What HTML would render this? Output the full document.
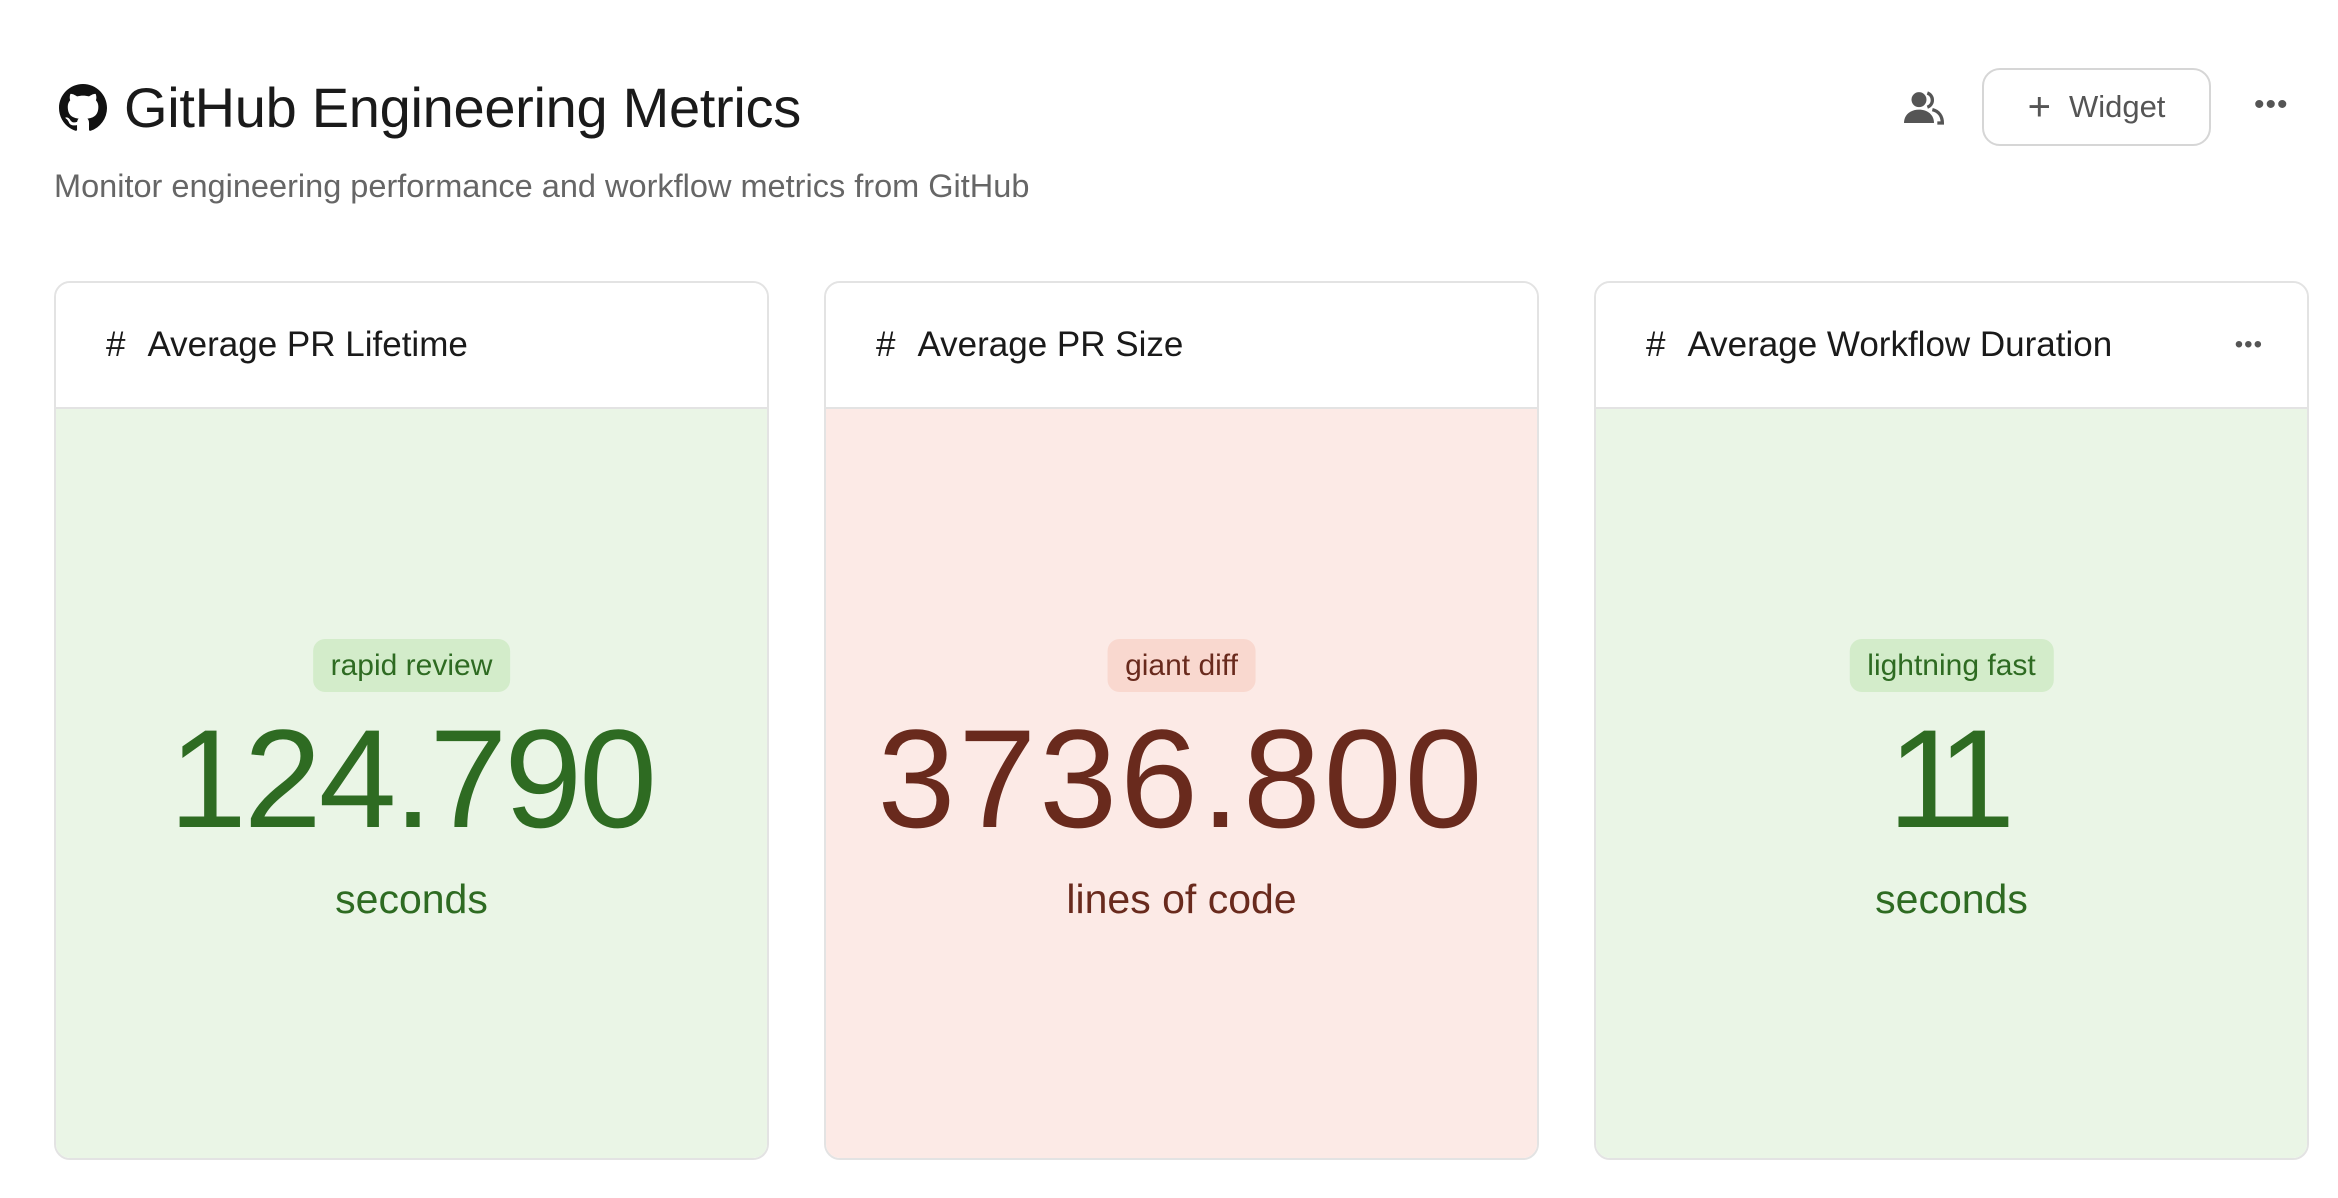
<!DOCTYPE html>
<html><head><meta charset="utf-8"><style>
*{margin:0;padding:0;box-sizing:border-box}
body{width:2338px;height:1198px;background:#fff;font-family:"Liberation Sans",sans-serif;position:relative;overflow:hidden}
.abs{position:absolute}
.title{left:124px;top:76px;font-size:56px;color:#1a1a1a;line-height:64px;letter-spacing:-0.3px}
.sub{left:54px;top:167px;font-size:32.5px;color:#666;line-height:38px}
.btn{left:1982px;top:68px;width:229px;height:78px;border:2px solid #d6d6d6;border-radius:18px;font-size:31px;color:#555;display:flex;align-items:center;justify-content:center;gap:18px}
.card{top:281px;height:879px;width:715px;border:2px solid #e3e3e3;border-radius:16px;overflow:hidden}
.hd{height:126px;background:#fff;border-bottom:2px solid #e3e3e3;font-size:35px;color:#1a1a1a;display:flex;align-items:center;padding-left:50px}
.hd b{font-weight:400;margin-right:22px}
.bd{position:absolute;top:126px;left:0;right:0;bottom:0}
.pill{position:absolute;top:230px;height:53px;left:50%;transform:translateX(-50%);border-radius:12px;font-size:30px;line-height:53px;padding:0 18px;white-space:nowrap}
.num{position:absolute;top:290px;left:0;right:0;text-align:center;font-size:140px;line-height:160px}
.unit{position:absolute;top:466px;left:0;right:0;text-align:center;font-size:41px;line-height:48px}
.g .bd{background:#eaf5e6;color:#2e6b22}.g .pill{background:#d3ecca}
.r .bd{background:#fceae6;color:#692a1d}.r .pill{background:#f9d8cf}
.dots{font-size:30px;color:#555;letter-spacing:1px}
</style></head><body>
<svg class="abs" style="left:59px;top:84px" width="48" height="48" viewBox="0 0 16 16"><path fill="#111" d="M8 0C3.580 0 0 3.58 0 8c0 3.54 2.29 6.53 5.47 7.59.4.07.55-.17.55-.38 0-.19-.01-.82-.01-1.49-2.010.37-2.53-.49-2.69-.94-.09-.23-.48-.94-.82-1.130-.28-.15-.68-.52-.01-.53.63-.01 1.08.58 1.23.82.72 1.21 1.87.87 2.33.66.07-.52.28-.87.51-1.07-1.78-.2-3.64-.89-3.64-3.95 0-.87.31-1.59.82-2.15-.08-.2-.36-1.02.08-2.12 0 0 .67-.21 2.2.82.64-.18 1.32-.27 2-.27.68 0 1.36.09 2 .27 1.53-1.04 2.2-.82 2.2-.82.44 1.1.16 1.92.08 2.12.51.56.82 1.27.82 2.15 0 3.07-1.87 3.75-3.65 3.95.29.25.54.73.54 1.48 0 1.07-.01 1.93-.01 2.2 0 .21.15.46.55.38A8.013 8.013 0 0016 8c0-4.42-3.58-8-8-8z"/></svg>
<div class="abs title">GitHub Engineering Metrics</div>
<div class="abs sub">Monitor engineering performance and workflow metrics from GitHub</div>
<svg class="abs" style="left:1904px;top:90px" width="40" height="36" viewBox="0 0 24 20"><circle cx="9" cy="5" r="4.5" fill="#555"/><path d="M0 19c0-5 4-8 9-8s9 3 9 8z" fill="#555"/><path d="M14 1a4.5 4.5 0 010 8.5" stroke="#555" stroke-width="2" fill="none"/><path d="M17 11c4 1 6 4 6 8h-3" stroke="#555" stroke-width="2" fill="none"/></svg>
<div class="abs btn"><span style="font-size:40px;line-height:1">+</span><span>Widget</span></div>
<div class="abs dots" style="left:2254px;top:88px">•••</div>

<div class="abs card g" style="left:54px"><div class="hd"><b>#</b>Average PR Lifetime</div>
<div class="bd"><div class="pill">rapid review</div><div class="num" style="letter-spacing:-3px">124.790</div><div class="unit">seconds</div></div></div>

<div class="abs card r" style="left:824px"><div class="hd"><b>#</b>Average PR Size</div>
<div class="bd"><div class="pill">giant diff</div><div class="num" style="letter-spacing:3px">3736.800</div><div class="unit">lines of code</div></div></div>

<div class="abs card g" style="left:1594px"><div class="hd"><b>#</b>Average Workflow Duration<span class="dots" style="position:absolute;right:44px;font-size:24px">•••</span></div>
<div class="bd"><div class="pill">lightning fast</div><div class="num" style="letter-spacing:-18px;text-indent:-18px">11</div><div class="unit">seconds</div></div></div>
</body></html>
